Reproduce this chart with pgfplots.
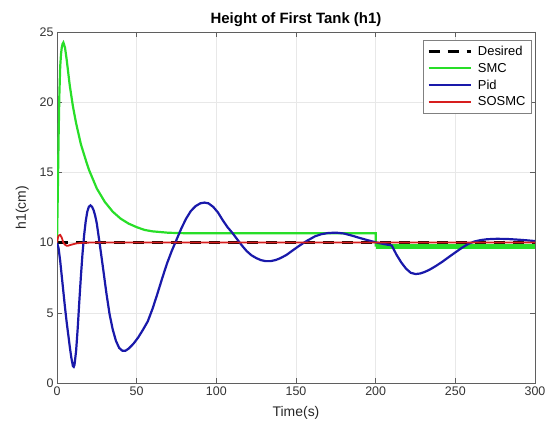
\documentclass[border=0pt]{standalone}
\usepackage{pgfplots}
\pgfplotsset{compat=1.18}
\usepackage{fontspec}
\setmainfont{Liberation Sans}
\definecolor{smcg}{RGB}{40,222,40}
\definecolor{pidb}{RGB}{25,25,170}
\definecolor{sosr}{RGB}{215,30,30}
\definecolor{axg}{RGB}{95,95,95}
\begin{document}
\begin{tikzpicture}
\useasboundingbox (-57bp,-42bp) rectangle (496bp,383bp);
\begin{axis}[
  at={(0,0)}, anchor=south west,
  scale only axis, width=478bp, height=351bp,
  xmin=0, xmax=300, ymin=0, ymax=25,
  xtick={0,50,...,300}, ytick={0,5,...,25},
  grid=major, major grid style={gray!18, line width=0.5pt},
  axis line style={axg, line width=0.6pt},
  tick style={axg, line width=0.6pt}, tick align=inside, major tick length=5bp,
  ticklabel style={font=\fontsize{12.5}{14}\selectfont, text=black!80},
  /pgf/number format/assume math mode=true,
  xlabel={Time(s)}, ylabel={h1(cm)},
  label style={font=\fontsize{14}{16}\selectfont, text=black!85},
  xlabel style={yshift=-4bp},
  ylabel style={yshift=4bp},
  title={Height of First Tank (h1)},
  title style={font=\bfseries\fontsize{15}{17}\selectfont, yshift=-4bp},
  legend style={at={(rel axis cs:0.993,0.977)}, anchor=north east, draw=black!50,
    fill=white, font=\fontsize{13}{15}\selectfont, inner xsep=4bp, inner ysep=4bp,
    row sep=2bp, cells={anchor=west}},
  legend image code/.code={\draw[#1] (0bp,0bp) -- (42bp,0bp); \path (46bp,0bp);},
]
\addplot[black, line width=2.6bp, dash pattern=on 11bp off 8bp] coordinates {(0,10) (300,10)};
\addlegendentry{Desired}
\addplot[smcg, line width=2.2bp] coordinates {
(0,10) (0.5,13.5) (1,17.5) (1.5,20.6) (2,22.5) (2.5,23.4) (3,23.9) (3.5,24.15) (4,24.25) (5,23.9) (6,23.1) (8,21.2) (10,19.7) (12,18.5) (15,17.0) (18,15.9) (20,15.2) (25,13.85) (30,12.9) (35,12.2) (40,11.7) (45,11.35) (50,11.1) (55,10.9) (60,10.8) (70,10.7) (80,10.67) (100,10.66) (200,10.66) (200,9.71)};
\addlegendentry{SMC}
\addplot[smcg, line width=5.5bp, forget plot] coordinates {(200,9.71) (300,9.71)};
\addplot[pidb, line width=2.2bp] coordinates {
(0,10) (1,9.6) (2,8.7) (3,7.6) (4,6.5) (5,5.4) (6,4.4) (7,3.5) (8,2.6) (9,1.8) (10,1.2) (10.5,1.15) (11,1.3) (12,2.3) (13,3.9) (14,5.8) (15,7.6) (16,9.2) (17,10.5) (18,11.5) (19,12.2) (20,12.55) (21,12.65) (22,12.55) (23,12.3) (24,11.9) (25,11.35) (27,9.75) (29,8.1) (31,6.4) (33,4.9) (35,3.8) (37,3.0) (39,2.5) (41,2.3) (43,2.3) (45,2.45) (48,2.8) (51,3.25) (54,3.8) (57,4.4) (60,5.3) (63,6.35) (66,7.45) (69,8.5) (72,9.4) (75,10.2) (78,11.0) (81,11.7) (84,12.25) (87,12.6) (90,12.8) (92.5,12.85) (95,12.8) (98,12.55) (101,12.15) (104,11.6) (107,11.1) (110,10.7) (113,10.25) (116,9.8) (119,9.4) (122,9.1) (125,8.9) (128,8.75) (131,8.68) (134,8.68) (137,8.75) (140,8.88) (144,9.12) (148,9.45) (152,9.77) (155,10.0) (158,10.2) (162,10.45) (166,10.6) (170,10.68) (175,10.71) (180,10.65) (185,10.5) (190,10.33) (195,10.17) (200,10.02) (205,9.9) (210,9.8) (211,9.6) (213,9.15) (216,8.6) (219,8.15) (222,7.85) (225,7.76) (228,7.8) (231,7.92) (234,8.08) (238,8.35) (242,8.65) (246,8.98) (250,9.3) (254,9.62) (258,9.9) (262,10.08) (266,10.18) (270,10.24) (276,10.27) (282,10.26) (288,10.22) (294,10.17) (300,10.11)};
\addlegendentry{Pid}
\addplot[sosr, line width=1.8bp] coordinates {
(0,10) (0.5,10.3) (1,10.5) (2,10.55) (3,10.35) (4,10.0) (5,9.85) (6,9.78) (7,9.78) (8,9.82) (10,9.88) (12,9.94) (15,9.98) (20,10) (300,10)};
\addlegendentry{SOSMC}
\end{axis}
\end{tikzpicture}
\end{document}
